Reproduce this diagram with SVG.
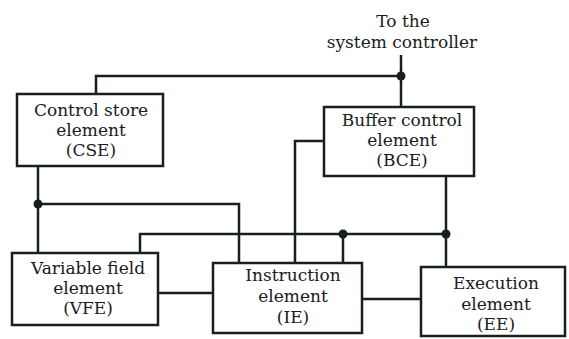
<svg xmlns="http://www.w3.org/2000/svg" width="569" height="339" viewBox="0 0 569 339">
<style>
.box{fill:#fff;stroke:#18201c;stroke-width:2.5}
.ln{fill:none;stroke:#18201c;stroke-width:2.5;stroke-linejoin:miter}
.dot{fill:#18201c}
text{font-family:"DejaVu Serif","Liberation Serif",serif;font-size:17px;fill:#18201c;text-anchor:middle}
</style>
<rect width="569" height="339" fill="#fff"/>
<g id="connectors">
<path class="ln" d="M401,55 V107"/>
<path class="ln" d="M96,94 V76 H401"/>
<path class="ln" d="M324,141 H295 V263"/>
<path class="ln" d="M38,166 V253"/>
<path class="ln" d="M38,204 H239 V263"/>
<path class="ln" d="M140,253 V234 H446"/>
<path class="ln" d="M343,234 V263"/>
<path class="ln" d="M446,176 V267"/>
<path class="ln" d="M158,293 H213"/>
<path class="ln" d="M362,299 H421"/>
<circle class="dot" cx="401" cy="76" r="4.5"/>
<circle class="dot" cx="38" cy="204" r="4.5"/>
<circle class="dot" cx="343" cy="234" r="4.5"/>
<circle class="dot" cx="446" cy="234" r="4.5"/>
</g>
<g id="controller">
<text x="403" y="27">To the</text>
<text x="402" y="48">system controller</text>
</g>
<g id="cse">
<rect class="box" x="17" y="94" width="146" height="72"/>
<text x="91" y="116">Control store</text>
<text x="91" y="136">element</text>
<text x="91" y="156">(CSE)</text>
</g>
<g id="bce">
<rect class="box" x="324" y="107" width="150" height="69"/>
<text x="402" y="126">Buffer control</text>
<text x="402" y="146">element</text>
<text x="402" y="166">(BCE)</text>
</g>
<g id="vfe">
<rect class="box" x="12" y="253" width="146" height="72"/>
<text x="88" y="274">Variable field</text>
<text x="88" y="294">element</text>
<text x="88" y="314">(VFE)</text>
</g>
<g id="ie">
<rect class="box" x="213" y="263" width="149" height="70"/>
<text x="293" y="281">Instruction</text>
<text x="293" y="302">element</text>
<text x="293" y="323">(IE)</text>
</g>
<g id="ee">
<rect class="box" x="421" y="267" width="144" height="69"/>
<text x="496" y="289">Execution</text>
<text x="496" y="310">element</text>
<text x="496" y="330">(EE)</text>
</g>
</svg>
